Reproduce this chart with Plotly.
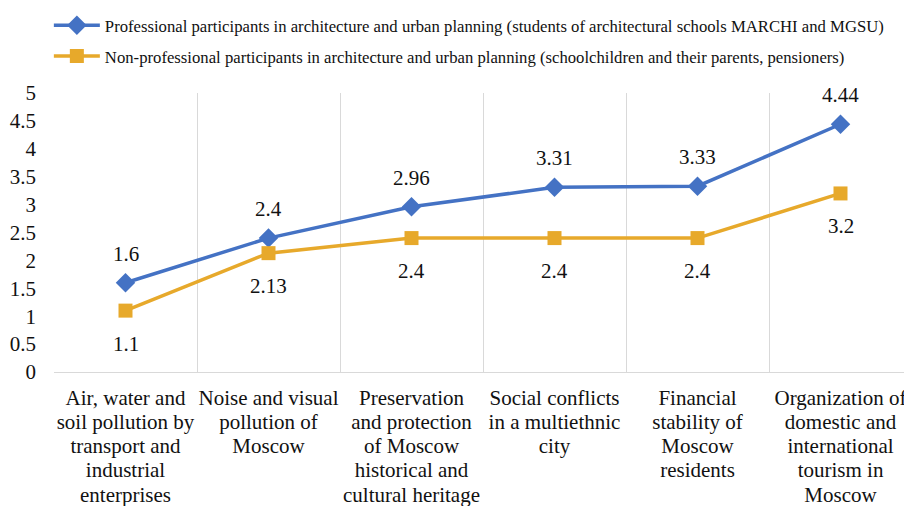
import plotly.graph_objects as go

CATEGORY_LINES = [
    ["Air, water and", "soil pollution by", "transport and", "industrial", "enterprises"],
    ["Noise and visual", "pollution of", "Moscow"],
    ["Preservation", "and protection", "of Moscow", "historical and", "cultural heritage"],
    ["Social conflicts", "in a multiethnic", "city"],
    ["Financial", "stability of", "Moscow", "residents"],
    ["Organization of", "domestic and", "international", "tourism in", "Moscow"],
]

PROFESSIONAL = [1.6, 2.4, 2.96, 3.31, 3.33, 4.44]
NON_PROFESSIONAL = [1.1, 2.13, 2.4, 2.4, 2.4, 3.2]

PRO_NAME = ("Professional participants in architecture and urban planning "
            "(students of architectural schools MARCHI and MGSU)")
NON_PRO_NAME = ("Non-professional participants in architecture and urban planning "
                "(schoolchildren and their parents, pensioners)")

BLUE = "#4472C4"
GOLD = "#E7A92B"
FONT = "Liberation Serif"

# glyphs at 21px, but line spacing taken from the smaller tick font size
CATEGORIES = [
    "<br>".join(f"<span style='font-size:21px'>{s}</span>" for s in lines)
    for lines in CATEGORY_LINES
]

fig = go.Figure()
fig.add_trace(go.Scatter(
    x=CATEGORIES, y=PROFESSIONAL, name=PRO_NAME, legendgroup="pro",
    mode="lines+markers",
    line=dict(color=BLUE, width=3.5),
    marker=dict(symbol="diamond", size=15, color=BLUE),
    cliponaxis=False,
))
fig.add_trace(go.Scatter(
    x=CATEGORIES, y=NON_PROFESSIONAL, name=NON_PRO_NAME, legendgroup="non",
    mode="lines+markers",
    line=dict(color=GOLD, width=3.5),
    marker=dict(symbol="square", size=14, color=GOLD),
    cliponaxis=False,
))

# data labels: blue above the points, gold below
for values, shift in ((PROFESSIONAL, 29), (NON_PROFESSIONAL, -33)):
    for cat, v in zip(CATEGORIES, values):
        fig.add_annotation(
            x=cat, y=v, text=f"{v:g}", showarrow=False, yshift=shift,
            font=dict(family=FONT, size=21, color="#111"),
        )

# page body has an 8px margin, so the figure is 8px smaller than the window
fig.update_layout(
    width=904, height=498,
    margin=dict(l=46, r=0, t=85, b=134, autoexpand=False),
    paper_bgcolor="white", plot_bgcolor="white",
    font=dict(family=FONT, color="#111"),
    legend=dict(
        x=-0.006, y=1.016, xanchor="left", yanchor="top", yref="container",
        orientation="v", font=dict(family=FONT, size=16.7, color="#111"),
        bgcolor="rgba(0,0,0,0)", tracegroupgap=6, itemwidth=46,
    ),
)

fig.update_xaxes(
    type="category", range=[-0.5, 5.5], automargin=False,
    tickson="boundaries", showgrid=True, gridcolor="#D9D9D9", gridwidth=1.2,
    showline=True, linecolor="#D9D9D9", linewidth=1.2,
    ticks="", tickfont=dict(family=FONT, size=18.5), tickangle=0,
    ticklabelstandoff=10,
)
fig.update_yaxes(
    range=[0, 5], dtick=0.5, showgrid=False, zeroline=False, automargin=False,
    showline=False, ticks="", ticklabelstandoff=17,
    tickfont=dict(family=FONT, size=21),
)

fig.write_html("out.html")
